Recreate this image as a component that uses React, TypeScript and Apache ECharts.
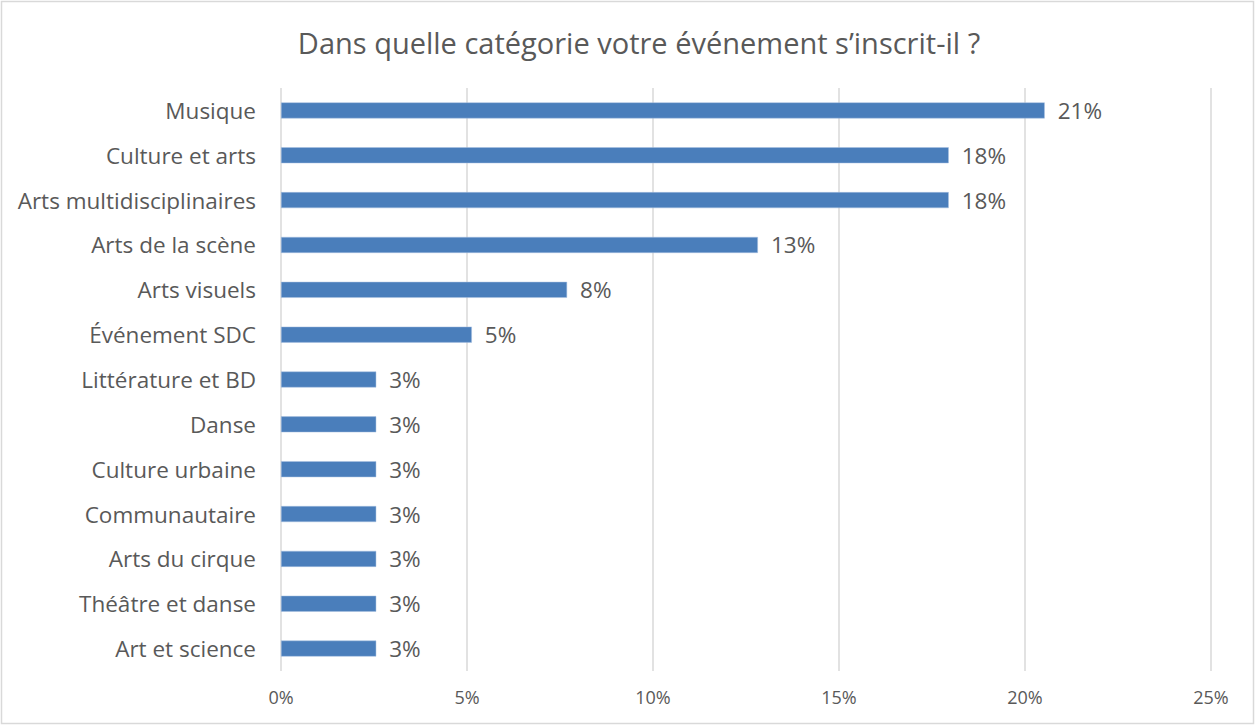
import React, { useEffect, useRef } from "react";
import * as echarts from "echarts";

const title = "Dans quelle catégorie votre événement s’inscrit-il ?";
const categories = [
  "Musique",
  "Culture et arts",
  "Arts multidisciplinaires",
  "Arts de la scène",
  "Arts visuels",
  "Événement SDC",
  "Littérature et BD",
  "Danse",
  "Culture urbaine",
  "Communautaire",
  "Arts du cirque",
  "Théâtre et danse",
  "Art et science",
];
const values = [20.53, 17.95, 17.95, 12.82, 7.69, 5.13, 2.56, 2.56, 2.56, 2.56, 2.56, 2.56, 2.56];
const xTicks = [0, 5, 10, 15, 20, 25];

const FONT = "Open Sans";
const TEXT = "#595959";

export default function App() {
  const ref = useRef<HTMLDivElement>(null);
  useEffect(() => {
    const chart = echarts.init(ref.current!, null, { renderer: "svg" });
    chart.setOption({
      animation: false,
      backgroundColor: "#ffffff",
      textStyle: { fontFamily: FONT },
      title: {
        text: title,
        left: 634,
        textAlign: "center",
        top: 23,
        textStyle: { fontFamily: FONT, fontSize: 29, fontWeight: "normal", color: TEXT },
      },
      graphic: [
        {
          type: "rect",
          shape: { x: 1.5, y: 1.5, width: 1252, height: 722 },
          style: { fill: "none", stroke: "#d9d9d9", lineWidth: 1.5 },
          silent: true,
        },
      ],
      grid: { left: 281, right: 45, top: 88, bottom: 55, containLabel: false },
      xAxis: {
        type: "value",
        min: xTicks[0],
        max: xTicks[xTicks.length - 1],
        interval: 5,
        axisLine: { show: false },
        axisTick: { show: false },
        splitLine: { show: true, lineStyle: { color: "#d9d9d9", width: 1.5 } },
        axisLabel: {
          formatter: "{value}%",
          color: TEXT,
          fontFamily: FONT,
          fontSize: 18,
          margin: 17,
        },
      },
      yAxis: {
        type: "category",
        data: categories,
        inverse: true,
        axisLine: { show: false },
        axisTick: { show: false },
        axisLabel: { color: TEXT, fontFamily: FONT, fontSize: 22.5, margin: 25 },
      },
      series: [
        {
          type: "bar",
          data: values,
          barWidth: 16,
          itemStyle: { color: "#4a7ebb", borderColor: "#a9c0e0", borderWidth: 0.5 },
          label: {
            show: true,
            position: "right",
            distance: 13,
            color: TEXT,
            fontFamily: FONT,
            fontSize: 22.5,
            formatter: (p: any) => Math.round(p.value) + "%",
          },
        },
      ],
    });
    return () => chart.dispose();
  }, []);
  return (
    <div
      ref={ref}
      style={{ position: "fixed", left: 0, top: 0, width: 1256, height: 726 }}
    />
  );
}
